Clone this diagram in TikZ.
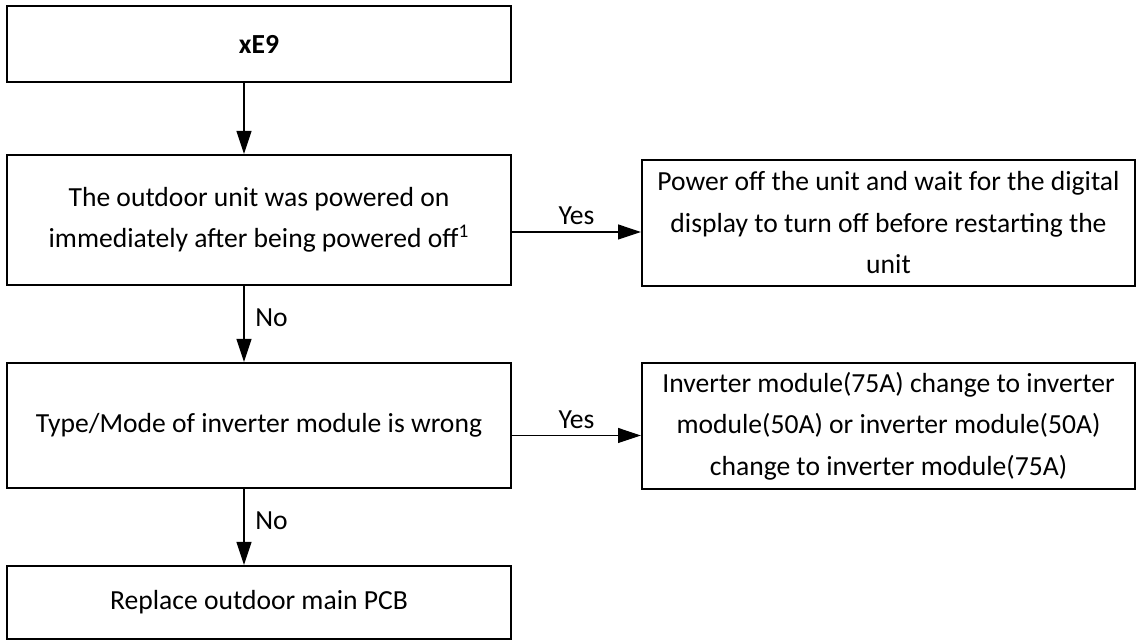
\documentclass[tikz,border=0pt]{standalone}
\usepackage{fontspec}
\setmainfont{Carlito}
\usetikzlibrary{arrows.meta}

\begin{document}
\begin{tikzpicture}[x=0.5pt, y=-0.5pt,
  box/.style={draw, line width=1pt, inner sep=0pt, align=center,
    font=\fontsize{13.8}{20.75}\selectfont},
  arr/.style={line width=0.6pt, -{Triangle[length=11.5pt, width=7.5pt]}},
  lbl/.style={font=\fontsize{13.8}{16}\selectfont}]
  \useasboundingbox (0,0) rectangle (1137,641);

  % left column
  \node[box, minimum width=252pt, minimum height=38pt] (start) at (259,44) {\textbf{xE9}};
  \node[box, minimum width=252pt, minimum height=65pt] (q1) at (259,220)
    {The outdoor unit was powered on\\immediately after being powered off\textsuperscript{1}};
  \node[box, minimum width=252pt, minimum height=62.5pt] (q2) at (259,425.5)
    {Type/Mode of inverter module is wrong};
  \node[box, minimum width=252pt, minimum height=36.5pt] (fix) at (259,602.5)
    {Replace outdoor main PCB};

  % right column
  \node[box, minimum width=246.5pt, minimum height=63pt] (act1) at (888.5,223)
    {Power off the unit and wait for the digital\\display to turn off before restarting the\\unit};
  \node[box, minimum width=246.5pt, minimum height=63pt] (act2) at (888.5,426)
    {Inverter module(75A) change to inverter\\module(50A) or inverter module(50A)\\change to inverter module(75A)};

  % down arrows
  \draw[arr] ([xshift=-7.5pt]start.south) -- ([xshift=-7.5pt]q1.north);
  \draw[arr] ([xshift=-7.5pt]q1.south) -- ([xshift=-7.5pt]q2.north)
    node[lbl, pos=0.42, right, xshift=2pt] {No};
  \draw[arr] ([xshift=-7.5pt]q2.south) -- ([xshift=-7.5pt]fix.north)
    node[lbl, pos=0.42, right, xshift=2pt] {No};

  % yes arrows
  \coordinate (y1) at ([yshift=-6pt]q1.east);
  \coordinate (y2) at ([yshift=-5pt]q2.east);
  \draw[arr] (y1) -- (y1 -| act1.west) node[lbl, midway, above] {Yes};
  \draw[arr] (y2) -- (y2 -| act2.west) node[lbl, midway, above] {Yes};
\end{tikzpicture}
\end{document}
